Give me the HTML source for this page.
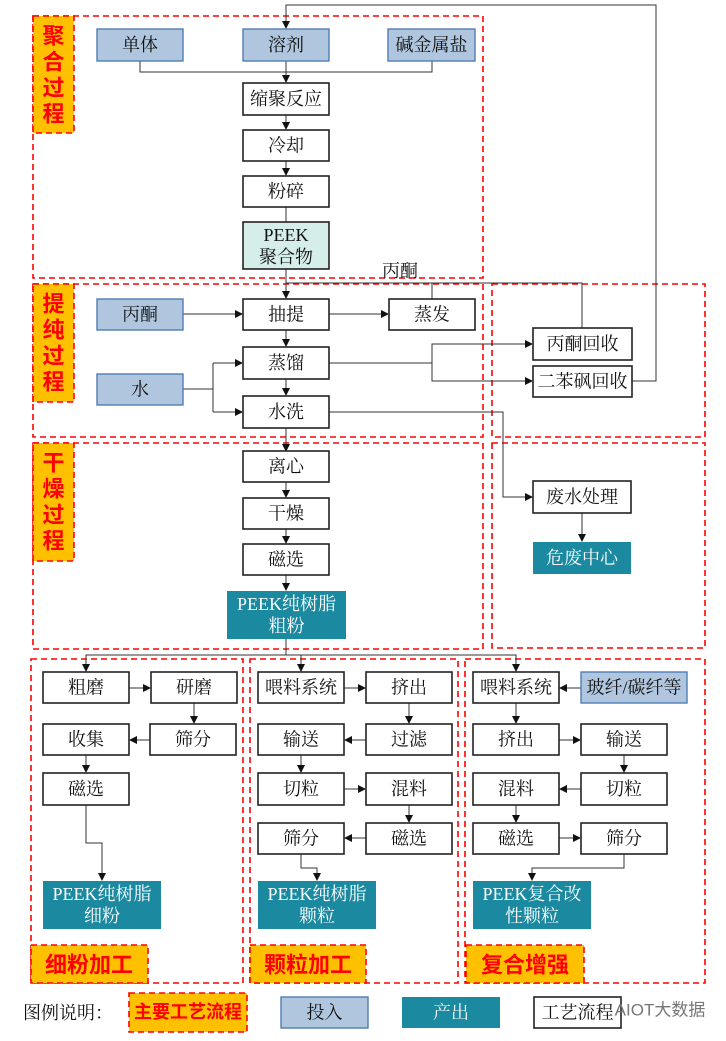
<!DOCTYPE html>
<html><head><meta charset="utf-8"><style>
html,body{margin:0;padding:0;background:#fff}
svg{display:block}
text{font-family:"Liberation Serif","Noto Serif CJK SC",serif;font-size:18px;fill:#111;text-anchor:middle;dominant-baseline:central}
.lb{font-family:"Liberation Sans","Noto Sans CJK SC",sans-serif;font-weight:bold;fill:#ff0000;font-size:22px}
.w{fill:#fff}
.b{fill:#fff;stroke:#222;stroke-width:1.6}
.i{fill:#b0c6df;stroke:#4f7db3;stroke-width:1.4}
.o{fill:#1b8aa1}
.g{fill:#d6eee9;stroke:#222;stroke-width:1.6}
.d{fill:none;stroke:#ff0000;stroke-width:1.6;stroke-dasharray:6,4}
.y{fill:#ffc000;stroke:#ff0000;stroke-width:1.6;stroke-dasharray:6,4}
.l{fill:none;stroke:#333;stroke-width:1}
</style></head><body>
<svg width="726" height="1041" viewBox="0 0 726 1041" xmlns="http://www.w3.org/2000/svg">
<defs><marker id="a" markerWidth="8" markerHeight="8" refX="7" refY="4" orient="auto" markerUnits="userSpaceOnUse"><path d="M0,0 L8,4 L0,8 z" fill="#111"/></marker></defs>

<rect class="d" x="33" y="16" width="450" height="262"/>
<rect class="d" x="33" y="284" width="450" height="153"/>
<rect class="d" x="33" y="443" width="450" height="206"/>
<rect class="d" x="492" y="284" width="213" height="153"/>
<rect class="d" x="492" y="443" width="213" height="205"/>
<rect class="d" x="31" y="659" width="212" height="324"/>
<rect class="d" x="250" y="659" width="208" height="324"/>
<rect class="d" x="465" y="659" width="240" height="324"/>

<rect class="y" x="33" y="16" width="41" height="117"/>
<text class="lb" x="53.5" y="36">聚</text><text class="lb" x="53.5" y="62">合</text><text class="lb" x="53.5" y="88">过</text><text class="lb" x="53.5" y="114">程</text>
<rect class="y" x="33" y="284" width="41" height="118"/>
<text class="lb" x="53.5" y="304">提</text><text class="lb" x="53.5" y="330">纯</text><text class="lb" x="53.5" y="356">过</text><text class="lb" x="53.5" y="382">程</text>
<rect class="y" x="33" y="443" width="41" height="118"/>
<text class="lb" x="53.5" y="463">干</text><text class="lb" x="53.5" y="489">燥</text><text class="lb" x="53.5" y="515">过</text><text class="lb" x="53.5" y="541">程</text>
<rect class="y" x="31" y="945" width="117" height="38"/><text class="lb" x="89" y="965">细粉加工</text>
<rect class="y" x="250" y="945" width="116" height="38"/><text class="lb" x="308" y="965">颗粒加工</text>
<rect class="y" x="466" y="945" width="118" height="38"/><text class="lb" x="525" y="965">复合增强</text>

<path class="l" d="M632,381 H656 V5 H286 V28" marker-end="url(#a)"/>
<path class="l" d="M140,61 V72 H432 V61"/>
<path class="l" d="M286,61 V82" marker-end="url(#a)"/>
<path class="l" d="M286,115 V129" marker-end="url(#a)"/>
<path class="l" d="M286,161 V175" marker-end="url(#a)"/>
<path class="l" d="M286,207 V222"/>
<path class="l" d="M286,269 V298" marker-end="url(#a)"/>
<path class="l" d="M286,283 H582 V328"/>
<path class="l" d="M432,283 V299"/>
<text x="400" y="271">丙酮</text>
<path class="l" d="M183,314 H242" marker-end="url(#a)"/>
<path class="l" d="M329,314 H388" marker-end="url(#a)"/>
<path class="l" d="M286,330 V346" marker-end="url(#a)"/>
<path class="l" d="M286,379 V395" marker-end="url(#a)"/>
<path class="l" d="M183,389 H213 M213,363 V412"/>
<path class="l" d="M213,363 H242" marker-end="url(#a)"/>
<path class="l" d="M213,412 H242" marker-end="url(#a)"/>
<path class="l" d="M329,363 H432 V344 H532" marker-end="url(#a)"/>
<path class="l" d="M432,363 V381 H532" marker-end="url(#a)"/>
<path class="l" d="M329,412 H503 V497 H532" marker-end="url(#a)"/>
<path class="l" d="M582,513 V541" marker-end="url(#a)"/>
<path class="l" d="M286,428 V451" marker-end="url(#a)"/>
<path class="l" d="M286,482 V497" marker-end="url(#a)"/>
<path class="l" d="M286,529 V543" marker-end="url(#a)"/>
<path class="l" d="M286,575 V590" marker-end="url(#a)"/>
<path class="l" d="M286,639 V655 H516 V671" marker-end="url(#a)"/>
<path class="l" d="M286,655 H86 V671" marker-end="url(#a)"/>
<path class="l" d="M301,655 V671" marker-end="url(#a)"/>
<path class="l" d="M129,688 H150" marker-end="url(#a)"/>
<path class="l" d="M194,703 V723" marker-end="url(#a)"/>
<path class="l" d="M150,740 H130" marker-end="url(#a)"/>
<path class="l" d="M86,755 V772" marker-end="url(#a)"/>
<path class="l" d="M86,805 V843 H102 V880" marker-end="url(#a)"/>
<path class="l" d="M344,688 H365" marker-end="url(#a)"/>
<path class="l" d="M409,703 V723" marker-end="url(#a)"/>
<path class="l" d="M366,740 H345" marker-end="url(#a)"/>
<path class="l" d="M301,755 V772" marker-end="url(#a)"/>
<path class="l" d="M344,789 H365" marker-end="url(#a)"/>
<path class="l" d="M409,805 V822" marker-end="url(#a)"/>
<path class="l" d="M366,838 H345" marker-end="url(#a)"/>
<path class="l" d="M301,854 V868 H317 V880" marker-end="url(#a)"/>
<path class="l" d="M581,688 H560" marker-end="url(#a)"/>
<path class="l" d="M516,703 V723" marker-end="url(#a)"/>
<path class="l" d="M559,740 H580" marker-end="url(#a)"/>
<path class="l" d="M624,755 V772" marker-end="url(#a)"/>
<path class="l" d="M581,789 H560" marker-end="url(#a)"/>
<path class="l" d="M516,805 V822" marker-end="url(#a)"/>
<path class="l" d="M559,838 H580" marker-end="url(#a)"/>
<path class="l" d="M624,854 V868 H532 V880" marker-end="url(#a)"/>

<rect class="i" x="97" y="29" width="86" height="32"/><text x="140" y="45">单体</text>
<rect class="i" x="243" y="29" width="86" height="32"/><text x="286" y="45">溶剂</text>
<rect class="i" x="388" y="29" width="87" height="32"/><text x="431.5" y="45">碱金属盐</text>
<rect class="b" x="243" y="83" width="86" height="32"/><text x="286" y="99">缩聚反应</text>
<rect class="b" x="243" y="130" width="86" height="31"/><text x="286" y="145.5">冷却</text>
<rect class="b" x="243" y="176" width="86" height="31"/><text x="286" y="191.5">粉碎</text>
<rect class="g" x="243" y="222" width="86" height="47"/><text x="286" y="235">PEEK</text><text x="286" y="257">聚合物</text>

<rect class="i" x="97" y="299" width="86" height="31"/><text x="140" y="314.5">丙酮</text>
<rect class="i" x="97" y="374" width="86" height="31"/><text x="140" y="389.5">水</text>
<rect class="b" x="243" y="299" width="86" height="31"/><text x="286" y="314.5">抽提</text>
<rect class="b" x="389" y="299" width="86" height="31"/><text x="432" y="314.5">蒸发</text>
<rect class="b" x="243" y="347" width="86" height="32"/><text x="286" y="363">蒸馏</text>
<rect class="b" x="243" y="396" width="86" height="32"/><text x="286" y="412">水洗</text>
<rect class="b" x="533" y="328" width="99" height="32"/><text x="582.5" y="344">丙酮回收</text>
<rect class="b" x="533" y="366" width="99" height="31"/><text x="582.5" y="381.5">二苯砜回收</text>
<rect class="b" x="533" y="481" width="98" height="32"/><text x="582" y="497">废水处理</text>
<rect class="o" x="533" y="542" width="98" height="32"/><text class="w" x="582" y="558">危废中心</text>

<rect class="b" x="243" y="451" width="86" height="31"/><text x="286" y="466.5">离心</text>
<rect class="b" x="243" y="498" width="86" height="31"/><text x="286" y="513.5">干燥</text>
<rect class="b" x="243" y="544" width="86" height="31"/><text x="286" y="559.5">磁选</text>
<rect class="o" x="227" y="591" width="119" height="48"/><text class="w" x="286.5" y="604">PEEK纯树脂</text><text class="w" x="286.5" y="626">粗粉</text>

<rect class="b" x="43" y="672" width="86" height="31"/><text x="86" y="687.5">粗磨</text>
<rect class="b" x="151" y="672" width="86" height="31"/><text x="194" y="687.5">研磨</text>
<rect class="b" x="43" y="724" width="86" height="31"/><text x="86" y="739.5">收集</text>
<rect class="b" x="150" y="724" width="86" height="31"/><text x="193" y="739.5">筛分</text>
<rect class="b" x="43" y="773" width="86" height="32"/><text x="86" y="789">磁选</text>
<rect class="o" x="43" y="881" width="118" height="48"/><text class="w" x="102" y="894">PEEK纯树脂</text><text class="w" x="102" y="916">细粉</text>
<rect class="b" x="258" y="672" width="86" height="31"/><text x="301" y="687.5">喂料系统</text>
<rect class="b" x="366" y="672" width="86" height="31"/><text x="409" y="687.5">挤出</text>
<rect class="b" x="258" y="724" width="86" height="31"/><text x="301" y="739.5">输送</text>
<rect class="b" x="366" y="724" width="86" height="31"/><text x="409" y="739.5">过滤</text>
<rect class="b" x="258" y="773" width="86" height="32"/><text x="301" y="789">切粒</text>
<rect class="b" x="366" y="773" width="86" height="32"/><text x="409" y="789">混料</text>
<rect class="b" x="258" y="823" width="86" height="31"/><text x="301" y="838.5">筛分</text>
<rect class="b" x="366" y="823" width="86" height="31"/><text x="409" y="838.5">磁选</text>
<rect class="o" x="258" y="881" width="118" height="48"/><text class="w" x="317" y="894">PEEK纯树脂</text><text class="w" x="317" y="916">颗粒</text>
<rect class="b" x="473" y="672" width="86" height="31"/><text x="516" y="687.5">喂料系统</text>
<rect class="i" x="581" y="672" width="106" height="31"/><text x="634" y="687.5">玻纤/碳纤等</text>
<rect class="b" x="473" y="724" width="86" height="31"/><text x="516" y="739.5">挤出</text>
<rect class="b" x="581" y="724" width="86" height="31"/><text x="624" y="739.5">输送</text>
<rect class="b" x="473" y="773" width="86" height="32"/><text x="516" y="789">混料</text>
<rect class="b" x="581" y="773" width="86" height="32"/><text x="624" y="789">切粒</text>
<rect class="b" x="473" y="823" width="86" height="31"/><text x="516" y="838.5">磁选</text>
<rect class="b" x="581" y="823" width="86" height="31"/><text x="624" y="838.5">筛分</text>
<rect class="o" x="473" y="881" width="118" height="48"/><text class="w" x="532" y="894">PEEK复合改</text><text class="w" x="532" y="916">性颗粒</text>

<text x="68" y="1013">图例说明：</text>
<rect class="y" x="129" y="993" width="118" height="39"/><text class="lb" x="188" y="1012" style="font-size:18px">主要工艺流程</text>
<rect class="i" x="281" y="997" width="87" height="31"/><text x="324.5" y="1012.5">投入</text>
<rect class="o" x="402" y="997" width="98" height="31"/><text class="w" x="451" y="1012.5">产出</text>
<rect class="b" x="534" y="997" width="87" height="31"/><text x="577.5" y="1012.5">工艺流程</text>
<text x="660" y="1010" style="font-family:'Liberation Sans','Noto Sans CJK SC',sans-serif;font-size:17px;fill:#777">AIOT大数据</text>
</svg>
</body></html>
